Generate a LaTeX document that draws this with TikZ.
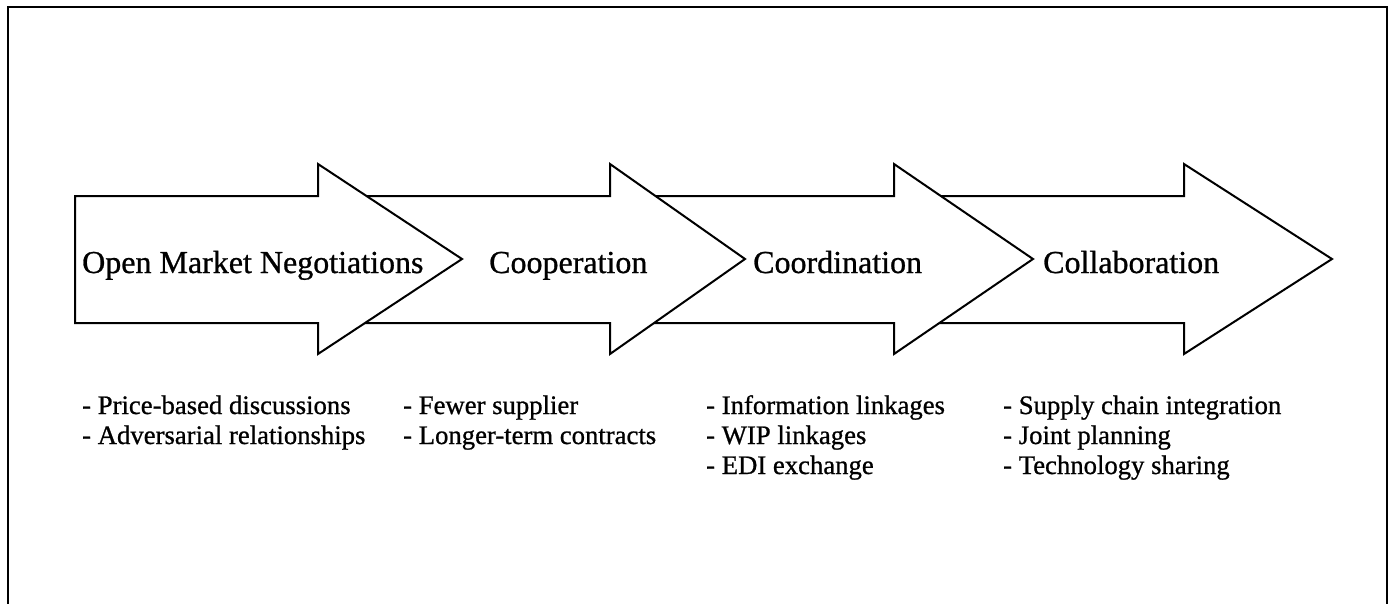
\documentclass[tikz,border=0pt]{standalone}
\usepackage{fontspec}
\setmainfont{Liberation Serif}[FakeBold=0.8]
\begin{document}
\begin{tikzpicture}[x=1pt,y=-1pt,
  stage/.style={draw=black,fill=white,line width=2pt,line join=miter},
  frame/.style={draw=black,line width=2.6pt},
  title/.style={anchor=base west,inner sep=0pt,font=\fontsize{32}{38}\selectfont},
  item/.style={anchor=base west,inner sep=0pt,font=\fontsize{26.7}{30}\selectfont}]
\useasboundingbox (0,0) rectangle (1393,603);
% open frame
\draw[frame] (8,604) -- (8,7) -- (1387,7) -- (1387,604);
% stage arrows, drawn back to front
% #1 body left, #2 head base, #3 tip
\newcommand\stagearrow[3]{%
  \path[stage] (#1,196) -- (#2,196) -- (#2,164) -- (#3,259) -- (#2,354)
    -- (#2,323) -- (#1,323) -- cycle;}
\stagearrow{894}{1184}{1332}
\stagearrow{610}{894}{1033}
\stagearrow{318}{610}{745}
\stagearrow{75}{318}{462}
% stage names
\node[title] (omn) at (82,273) {Open Market Negotiations};
\node[title] (coop) at (489,273) {Cooperation};
\node[title] (coord) at (753,273) {Coordination};
\node[title] (coll) at (1043,273) {Collaboration};
% characteristics
\node[item] (a1) at (82,414) {- Price-based discussions};
\node[item] (a2) at (82,444) {- Adversarial relationships};
\node[item] (b1) at (403,414) {- Fewer supplier};
\node[item] (b2) at (403,444) {- Longer-term contracts};
\node[item] (c1) at (706,414) {- Information linkages};
\node[item] (c2) at (706,444) {- WIP linkages};
\node[item] (c3) at (706,474) {- EDI exchange};
\node[item] (d1) at (1003,414) {- Supply chain integration};
\node[item] (d2) at (1003,444) {- Joint planning};
\node[item] (d3) at (1003,474) {- Technology sharing};
\end{tikzpicture}
\end{document}
